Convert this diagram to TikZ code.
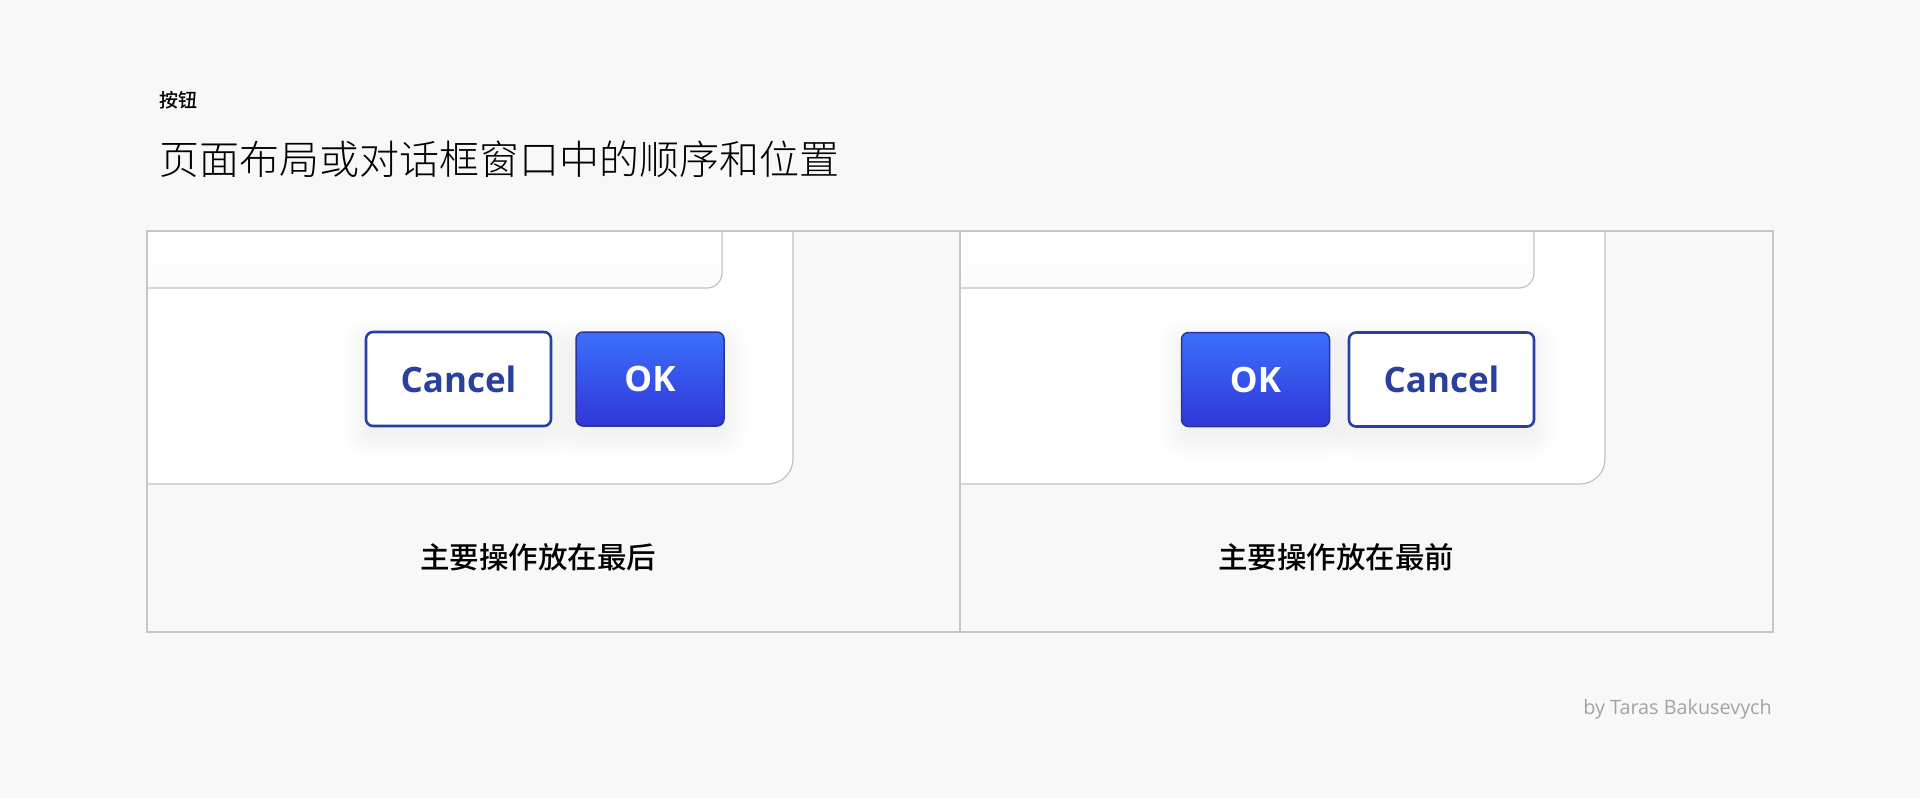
\documentclass[tikz,border=0pt]{standalone}
\usepackage{fontspec}
\setmainfont{Open Sans}
\newfontfamily\cjk{Noto Sans CJK SC}
\newfontfamily\cjkmed{Noto Sans CJK SC Medium}
\newfontfamily\cjklight{Noto Sans CJK SC Light}
\newfontfamily\btnfont{Open Sans}
\definecolor{bgc}{HTML}{F8F8F8}
\definecolor{framec}{HTML}{C6C6C6}
\definecolor{dlgc}{HTML}{C2C2C2}
\definecolor{navy}{HTML}{2A409E}
\definecolor{okTop}{HTML}{3B70FA}
\definecolor{okBot}{HTML}{3036D6}
\definecolor{okEdge}{HTML}{2A33A0}
\definecolor{credc}{HTML}{A3A3A3}
\definecolor{barTop}{HTML}{FFFFFF}
\definecolor{barBot}{HTML}{FCFCFC}
\newcommand\softshadow[4]{%
  \foreach \i in {0,...,11}{%
    \fill[black, opacity=0.005, rounded corners={6+\i*2.2}]
      ({#1-\i*2.2},{#2-\i*2.2+9}) rectangle ({#3+\i*2.2},{#4+\i*2.2+9});
  }}
\tikzset{
  dialog/.style={draw=dlgc, line width=1.2pt, fill=white, rounded corners=25pt},
  topbar/.style={draw=dlgc, line width=1.2pt, top color=barTop, bottom color=barBot, rounded corners=15pt},
  cancelbtn/.style={draw=navy, line width=2.6pt, fill=white, rounded corners=7pt,
    minimum width=185pt, minimum height=94pt, inner sep=0pt,
    font=\btnfont\bfseries\fontsize{35}{40}\selectfont, text=navy},
  okbtn/.style={draw=okEdge, line width=1.5pt, top color=okTop, bottom color=okBot, rounded corners=7pt,
    minimum width=148pt, minimum height=94pt, inner sep=0pt,
    font=\btnfont\bfseries\fontsize{35}{40}\selectfont, text=white},
  caption/.style={font=\cjkmed\fontsize{29.5}{34}\selectfont, text=black, inner sep=0pt, anchor=base}
}
\begin{document}
\begin{tikzpicture}[x=1pt,y=-1pt]
\fill[bgc] (0,0) rectangle (1920,798);
\useasboundingbox (0,0) rectangle (1920,798);

% titles
\node[anchor=base west, inner sep=0pt, font=\cjkmed\fontsize{19}{22}\selectfont] (kicker) at (159,107) {按钮};
\node[anchor=base west, inner sep=0pt, font=\cjklight\fontsize{40}{46}\selectfont] (title) at (159,174) {页面布局或对话框窗口中的顺序和位置};

% left panel
\begin{scope}
\clip (147,231) rectangle (960,632);
\draw[dialog] (100,180) rectangle (793,484);
\draw[topbar] (100,180) rectangle (722,288);
\softshadow{366}{332}{551}{426}
\softshadow{576}{332}{724}{426}
\node[cancelbtn] (lcancel) at (458.5,379) {Cancel};
\node[okbtn] (lok) at (650,379) {OK};
\end{scope}

% right panel
\begin{scope}
\clip (960,231) rectangle (1773,632);
\draw[dialog] (900,180) rectangle (1605,484);
\draw[topbar] (900,180) rectangle (1534,288);
\softshadow{1182}{333}{1329}{427}
\softshadow{1349}{333}{1534}{427}
\node[okbtn] (rok) at (1255.5,379.5) {OK};
\node[cancelbtn] (rcancel) at (1441.5,379.5) {Cancel};
\end{scope}

% frame
\draw[framec, line width=1.2pt] (147,231) rectangle (1773,632);
\draw[framec, line width=1.2pt] (960,231) -- (960,632);

% captions
\node[caption] (lcap) at (538,568) {主要操作放在最后};
\node[caption] (rcap) at (1336,568) {主要操作放在最前};

% credit
\node[anchor=base east, inner sep=0pt, text=credc, font=\fontsize{19.8}{23}\selectfont] (credit) at (1772,714) {by Taras Bakusevych};
\end{tikzpicture}
\end{document}
